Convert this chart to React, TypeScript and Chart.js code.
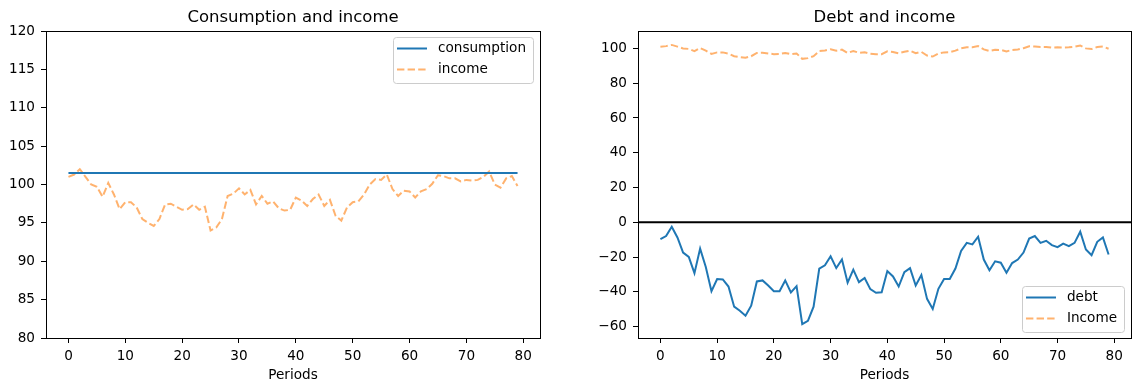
import React, { useEffect, useRef } from "react";
import { Chart, registerables } from "chart.js";

Chart.register(...registerables);

const FONT = "'DejaVu Sans', 'Liberation Sans', sans-serif";

// ---- data ----
const income = [
  101.0, 101.3, 102.0, 101.0, 100.0, 99.7, 98.4, 100.2, 98.7, 96.8,
  97.7, 97.7, 97.0, 95.5, 95.0, 94.6, 95.5, 97.4, 97.5, 97.1,
  96.7, 96.8, 97.4, 96.7, 97.1, 94.0, 94.4, 95.5, 98.5, 98.8,
  99.5, 98.7, 99.3, 97.4, 98.5, 97.5, 97.8, 96.9, 96.6, 96.7,
  98.3, 97.9, 97.2, 98.1, 98.7, 97.2, 98.0, 95.9, 95.3, 97.0,
  97.7, 97.8, 98.7, 100.0, 100.7, 100.6, 101.3, 99.4, 98.5, 99.2,
  99.1, 98.3, 99.1, 99.4, 100.1, 101.2, 101.1, 100.8, 100.8, 100.4,
  100.6, 100.5, 100.6, 101.0, 101.7, 100.0, 99.6, 100.8, 101.1, 99.8,
];

const consumption = [
  101.5, 101.5, 101.5, 101.5, 101.5, 101.5, 101.5, 101.5, 101.5, 101.5,
  101.5, 101.5, 101.5, 101.5, 101.5, 101.5, 101.5, 101.5, 101.5, 101.5,
  101.5, 101.5, 101.5, 101.5, 101.5, 101.5, 101.5, 101.5, 101.5, 101.5,
  101.5, 101.5, 101.5, 101.5, 101.5, 101.5, 101.5, 101.5, 101.5, 101.5,
  101.5, 101.5, 101.5, 101.5, 101.5, 101.5, 101.5, 101.5, 101.5, 101.5,
  101.5, 101.5, 101.5, 101.5, 101.5, 101.5, 101.5, 101.5, 101.5, 101.5,
  101.5, 101.5, 101.5, 101.5, 101.5, 101.5, 101.5, 101.5, 101.5, 101.5,
  101.5, 101.5, 101.5, 101.5, 101.5, 101.5, 101.5, 101.5, 101.5, 101.5,
];

const debt = [
  -9.7, -7.9, -2.5, -8.7, -17.4, -19.9, -29.2, -15.1, -25.7, -39.6,
  -32.6, -32.8, -36.9, -48.5, -50.8, -53.7, -47.9, -34.0, -33.4, -36.3,
  -39.6, -39.6, -33.4, -40.3, -36.7, -58.5, -56.6, -48.5, -26.6, -24.7,
  -19.5, -26.3, -21.4, -34.7, -27.2, -34.4, -32.0, -38.4, -40.5, -40.2,
  -28.0, -31.1, -36.9, -28.6, -26.3, -36.3, -30.3, -44.0, -49.8, -38.2,
  -32.6, -32.6, -26.6, -16.4, -11.8, -12.7, -8.3, -21.4, -27.6, -22.4,
  -23.2, -29.0, -23.4, -21.4, -17.4, -9.3, -7.9, -11.8, -10.6, -13.1,
  -14.3, -12.2, -13.7, -11.8, -5.4, -15.6, -18.9, -11.2, -8.7, -18.5,
];

const periods = income.map((_, i) => i);

const xTicks = [0, 10, 20, 30, 40, 50, 60, 70, 80];
const leftYTicks = [80, 85, 90, 95, 100, 105, 110, 115, 120];
const rightYTicks = [-60, -40, -20, 0, 20, 40, 60, 80, 100];

const BLUE = "#1f77b4";
const ORANGE = "rgba(255,127,14,0.6)";
const DASH = [7.4, 3.2];
const TICK_SIZE = 13.6;

type LegendItem = { label: string; color: string; dash: number[] };

function makeOverlay(items: LegendItem[], corner: "top" | "bottom", zeroLine: boolean) {
  return {
    id: "overlay",
    afterDatasetsDraw(chart: any) {
      const { ctx, chartArea: a } = chart;
      ctx.save();
      if (zeroLine) {
        const y = chart.scales.y.getPixelForValue(0);
        ctx.strokeStyle = "#000";
        ctx.lineWidth = 2;
        ctx.setLineDash([]);
        ctx.beginPath();
        ctx.moveTo(a.left, y);
        ctx.lineTo(a.right, y);
        ctx.stroke();
      }
      // frame
      ctx.strokeStyle = "#000";
      ctx.lineWidth = 1;
      ctx.setLineDash([]);
      const l = Math.floor(a.left) + 0.5;
      const t = Math.floor(a.top) + 0.5;
      const r = Math.floor(a.right) + 0.5;
      const b = Math.floor(a.bottom) + 0.5;
      ctx.strokeRect(l, t, r - l, b - t);

      // legend
      ctx.font = `${TICK_SIZE}px ${FONT}`;
      const tw = Math.max(...items.map((it) => ctx.measureText(it.label).width));
      const w = 4 + 30 + 11 + tw + 7;
      const h = 46;
      const right = a.right - 7;
      const left = right - w;
      const top = corner === "top" ? a.top + 6 : a.bottom - 6 - h;
      ctx.fillStyle = "rgba(255,255,255,0.8)";
      ctx.strokeStyle = "#cccccc";
      ctx.lineWidth = 1;
      ctx.beginPath();
      (ctx as any).roundRect(Math.round(left) + 0.5, Math.round(top) + 0.5, Math.round(w), h, 3);
      ctx.fill();
      ctx.stroke();
      items.forEach((it, i) => {
        const y = top + 11.5 + i * 21;
        ctx.strokeStyle = it.color;
        ctx.lineWidth = 2;
        ctx.setLineDash(it.dash);
        ctx.beginPath();
        ctx.moveTo(left + 4, y);
        ctx.lineTo(left + 34, y);
        ctx.stroke();
        ctx.setLineDash([]);
        ctx.fillStyle = "#000";
        ctx.textBaseline = "middle";
        ctx.textAlign = "left";
        ctx.fillText(it.label, left + 45, y);
      });
      ctx.restore();
    },
  };
}

function xScale() {
  return {
    type: "linear",
    min: -3.95,
    max: 82.95,
    afterBuildTicks: (s: any) => {
      s.ticks = xTicks.map((v) => ({ value: v }));
    },
    afterFit: (s: any) => {
      s.height = 53;
    },
    grid: { display: true, drawOnChartArea: false, drawTicks: true, tickLength: 5, color: "#000", lineWidth: 1 },
    border: { display: false },
    ticks: { color: "#000", font: { family: FONT, size: TICK_SIZE }, padding: 5, maxRotation: 0, autoSkip: false },
    title: {
      display: true,
      text: "Periods",
      color: "#000",
      font: { family: FONT, size: TICK_SIZE },
      padding: { top: 0, bottom: 7 },
    },
  };
}

function yScale(min: number, max: number, ticks: number[], width: number) {
  return {
    type: "linear",
    min,
    max,
    afterBuildTicks: (s: any) => {
      s.ticks = ticks.map((v) => ({ value: v }));
    },
    afterFit: (s: any) => {
      s.width = width;
    },
    grid: { display: true, drawOnChartArea: false, drawTicks: true, tickLength: 5, color: "#000", lineWidth: 1 },
    border: { display: false },
    ticks: {
      color: "#000",
      font: { family: FONT, size: TICK_SIZE },
      padding: 6,
      callback: (v: any) => (v < 0 ? "\u2212" + Math.abs(v) : String(v)),
    },
  };
}

function titleOpts(text: string) {
  return {
    display: true,
    text,
    color: "#000",
    fullSize: false,
    font: { family: FONT, size: 16.5, weight: "normal" },
    padding: { top: 7.5, bottom: 3.7 },
  };
}

function pts(values: number[]) {
  return values.map((v, i) => ({ x: periods[i], y: v }));
}

export default function App() {
  const leftRef = useRef<HTMLCanvasElement>(null);
  const rightRef = useRef<HTMLCanvasElement>(null);

  useEffect(() => {
    const left = new Chart(leftRef.current as HTMLCanvasElement, {
      type: "line",
      data: {
        datasets: [
          { label: "consumption", data: pts(consumption), borderColor: BLUE, borderWidth: 2, pointRadius: 0, tension: 0 },
          { label: "income", data: pts(income), borderColor: ORANGE, borderWidth: 2, borderDash: DASH, pointRadius: 0, tension: 0 },
        ],
      },
      options: {
        responsive: false,
        animation: false,
        layout: { padding: { left: 0, right: 30, top: 0, bottom: 0 } },
        scales: { x: xScale(), y: yScale(80, 120, leftYTicks, 46) } as any,
        plugins: {
          legend: { display: false },
          tooltip: { enabled: false },
          title: titleOpts("Consumption and income") as any,
        },
      },
      plugins: [
        makeOverlay(
          [
            { label: "consumption", color: BLUE, dash: [] },
            { label: "income", color: ORANGE, dash: DASH },
          ],
          "top",
          false
        ),
      ],
    } as any);

    const right = new Chart(rightRef.current as HTMLCanvasElement, {
      type: "line",
      data: {
        datasets: [
          { label: "debt", data: pts(debt), borderColor: BLUE, borderWidth: 2, pointRadius: 0, tension: 0 },
          { label: "Income", data: pts(income), borderColor: ORANGE, borderWidth: 2, borderDash: DASH, pointRadius: 0, tension: 0 },
        ],
      },
      options: {
        responsive: false,
        animation: false,
        layout: { padding: { left: 0, right: 10, top: 0, bottom: 0 } },
        scales: { x: xScale(), y: yScale(-66.5, 110, rightYTicks, 68) } as any,
        plugins: {
          legend: { display: false },
          tooltip: { enabled: false },
          title: titleOpts("Debt and income") as any,
        },
      },
      plugins: [
        makeOverlay(
          [
            { label: "debt", color: BLUE, dash: [] },
            { label: "Income", color: ORANGE, dash: DASH },
          ],
          "bottom",
          true
        ),
      ],
    } as any);

    return () => {
      left.destroy();
      right.destroy();
    };
  }, []);

  return (
    <div style={{ position: "fixed", left: 0, top: 0, width: 1141, height: 391, background: "#fff" }}>
      <canvas
        ref={leftRef}
        width={570}
        height={391}
        style={{ position: "absolute", left: 0, top: 0, width: 570, height: 391 }}
      />
      <canvas
        ref={rightRef}
        width={571}
        height={391}
        style={{ position: "absolute", left: 570, top: 0, width: 571, height: 391 }}
      />
    </div>
  );
}
